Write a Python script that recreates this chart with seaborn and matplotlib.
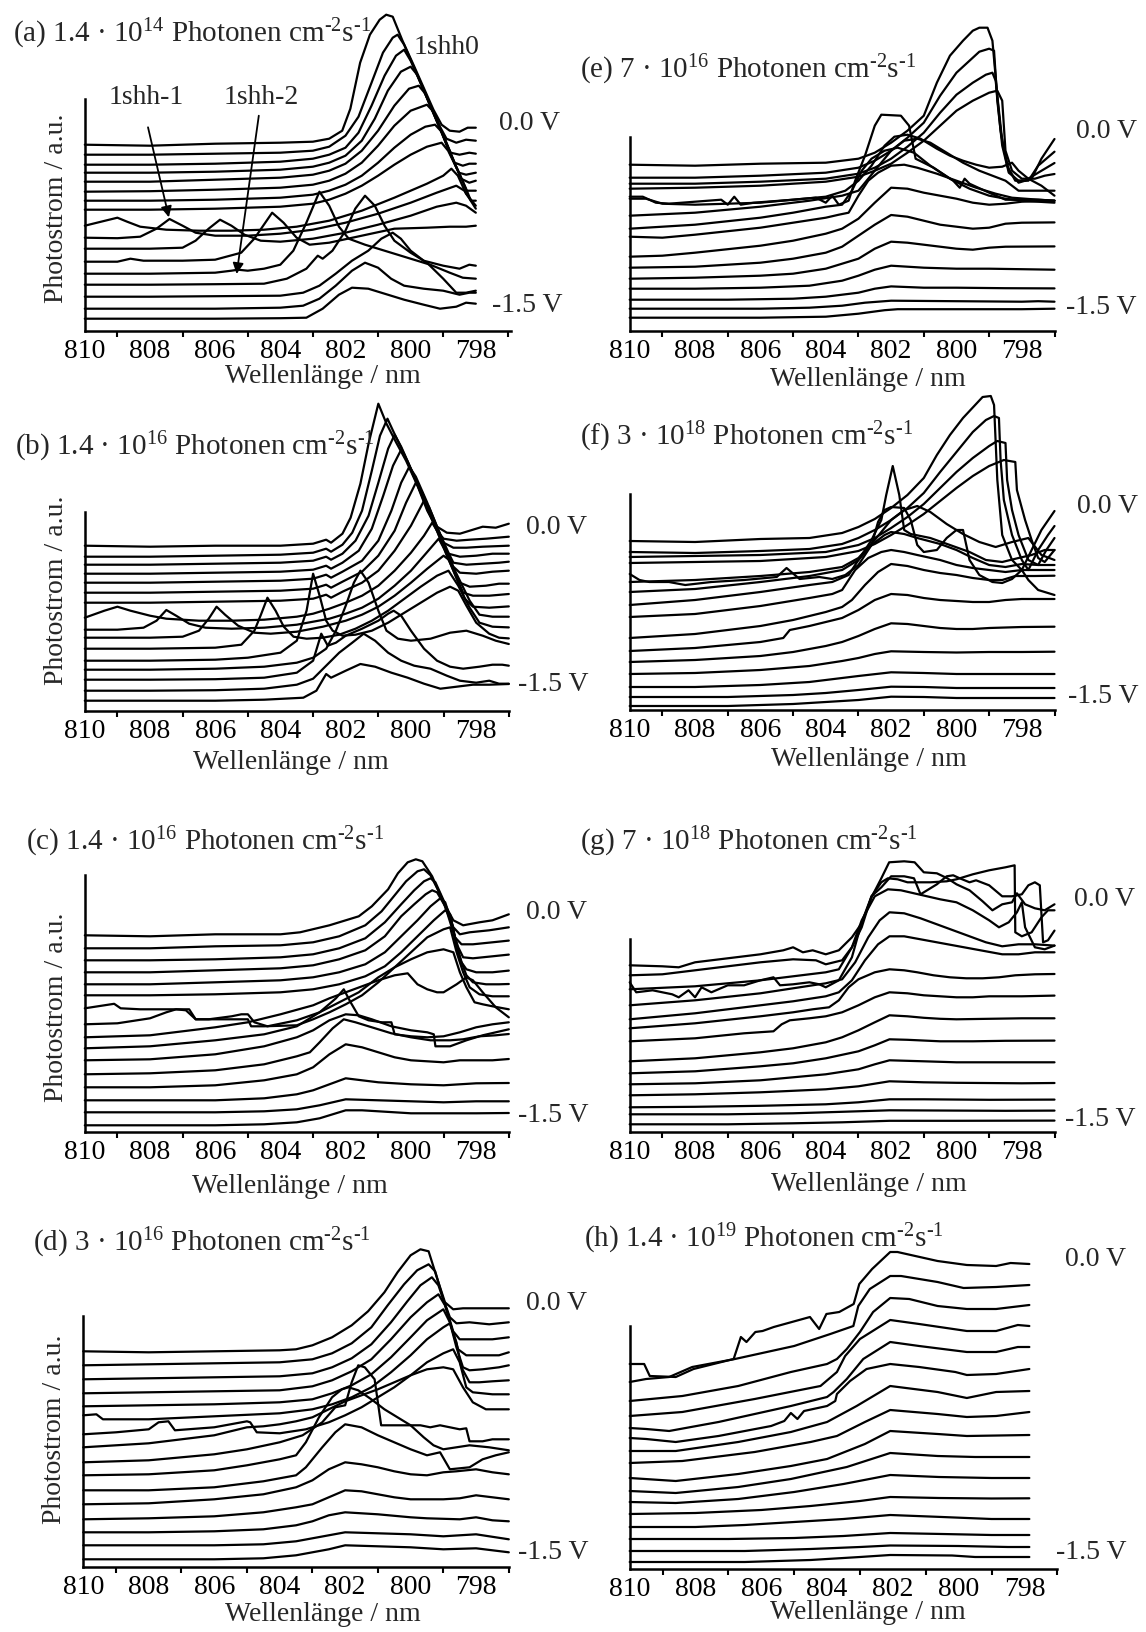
import matplotlib
matplotlib.use("Agg")
import matplotlib.pyplot as plt
from matplotlib.ticker import MultipleLocator
import pandas as pd
import seaborn as sns

sns.set_theme(style="white")
plt.rcParams["font.family"] = ["Liberation Serif", "DejaVu Serif"]
plt.rcParams["mathtext.fontset"] = "custom"
plt.rcParams["mathtext.rm"] = "Liberation Serif"
plt.rcParams["mathtext.it"] = "Liberation Serif:italic"
plt.rcParams["mathtext.bf"] = "Liberation Serif:bold"

# ---------------------------------------------------------------------------
# Photocurrent spectra (wavelength in nm, photocurrent in a.u. incl. offset),
# one list per bias step from 0.0 V (first) down to -1.5 V (last).
# ---------------------------------------------------------------------------
spectra_a = [
    [(810,186),(808,185),(806,187),(804,188),(803,189),(802.5,192),(802.1,200),(801.85,222),(801.55,268),(801.25,296),(800.95,311),(800.75,316),(800.55,314),(800.25,290),(799.9,265),(799.6,243),(799.3,221),(799.05,206),(798.8,200),(798.5,199),(798.25,203),(798,203)],
    [(810,176),(808,176),(806,177),(804,178),(803,180),(802.5,184),(802,195),(801.6,214),(801.2,248),(800.85,278),(800.55,293),(800.4,296),(800.2,286),(799.8,256),(799.4,226),(799.1,204),(798.9,192),(798.6,188),(798.3,191),(798,190)],
    [(810,166),(808,166),(806,167),(804,169),(803,172),(802.5,176),(802,183),(801.6,198),(801.2,225),(800.8,255),(800.45,275),(800.2,281),(800.0,270),(799.7,248),(799.4,225),(799.1,202),(798.9,186),(798.77,178),(798.5,176),(798.2,178),(798,177)],
    [(810,158),(808,158),(806,159),(804,161),(803,164),(802.5,168),(802,175),(801.5,190),(801.1,212),(800.7,240),(800.3,259),(800.0,264),(799.8,256),(799.5,233),(799.2,210),(798.9,188),(798.65,168),(798.4,165),(798.2,167),(798,167)],
    [(810,149),(808,149),(806,151),(804,153),(803,156),(802.5,160),(802,167),(801.5,180),(801,200),(800.5,225),(800.05,242),(799.75,245),(799.55,237),(799.25,214),(798.95,191),(798.7,171),(798.52,158),(798.3,156),(798,158)],
    [(810,139),(808,139.5),(806,141),(804,143),(803,146),(802.5,150),(802,157),(801.5,168),(801,185),(800.5,205),(800,220),(799.5,226),(799.3,219),(799.0,195),(798.75,175),(798.45,152),(798.2,148),(798,150)],
    [(810,130),(808,130),(806,131),(804,133),(803,136),(802.5,140),(802,146),(801.5,155),(801,168),(800.5,183),(800,196),(799.55,204),(799.25,206),(799.05,199),(798.8,178),(798.5,157),(798.28,140),(798,140)],
    [(810,121),(808,121),(806,122),(804,124),(803,127),(802.5,131),(802,137),(801.5,145),(801,155),(800.5,166),(800,176),(799.5,184),(799.05,188),(798.85,180),(798.55,160),(798.3,142),(798.15,130),(798,130)],
    [(810,105),(809.5,109),(809.0,113),(808.7,109),(808.3,104),(807.5,101),(806.5,100),(805.5,100),(804.5,101),(803.5,104),(802.5,110),(801.5,120),(800.5,133),(799.5,147),(799,155),(798.75,162),(798.55,155),(798.3,137),(798,125)],
    [(810,93),(809,92.5),(808.3,94),(807.8,102),(807.4,111.7),(807.0,105),(806.6,98),(806,95),(805,95),(804,97),(803,101),(802,108),(801,117),(800,128),(799.2,138),(798.6,145),(798.35,140),(798,122)],
    [(810,82),(808,82),(807,83),(806.6,90),(806.2,102),(805.85,111),(805.5,105),(805.1,96),(804.6,90),(804,89),(803,92),(802,98),(801,106),(800,115),(799.2,124),(798.6,128),(798.3,125),(798,118)],
    [(810,69),(809,69),(808.6,72),(808.2,70),(807,70),(806,71),(805.2,78),(804.8,92),(804.25,118),(803.9,108),(803.5,93),(803.1,86),(802.5,88),(801.5,95),(800.5,102),(799.5,103),(798.8,104),(798.3,104),(798,105)],
    [(810,57),(808,57),(806,58),(805.5,60),(805.3,61),(805,60),(804.5,62),(804,66),(803.6,80),(803.2,108),(802.8,139),(802.5,125),(802.2,104),(801.9,92),(801.4,86),(800.8,80),(800,72),(799.4,66),(798.8,58),(798.4,53),(798,52)],
    [(810,46),(808,46),(806,46.5),(804.5,47),(803.8,52),(803.2,62),(802.85,75),(802.7,72),(802.4,80),(802.0,100),(801.7,122),(801.4,135),(801.1,125),(800.8,105),(800.5,90),(800,78),(799.5,68),(799,52),(798.6,38),(798.3,38),(798,40)],
    [(810,34),(808,34),(806,34.5),(804,35),(803.3,38),(802.8,45),(802.3,57),(801.8,70),(801.3,80),(800.9,92),(800.55,98),(800.3,92),(800.0,80),(799.6,70),(799.0,65),(798.5,62),(798.2,66),(798,65)],
    [(810,22),(808,22),(806,22),(804,23),(803.3,25),(802.8,32),(802.3,45),(801.8,60),(801.4,68),(801,63),(800.6,52),(800.2,45),(799.6,42),(799,40),(798.5,36),(798.2,38),(798,38)],
    [(810,12),(806,12),(804,12.5),(803.2,13),(802.7,22),(802.2,36),(801.8,43),(801.3,42),(800.8,37),(800.2,31),(799.6,26),(799.1,22),(798.6,24),(798.3,28),(798,27)],
]

spectra_b = [
    [(810,165),(808,164),(806,165),(804,165),(803.0,167),(802.6,171),(802.45,168),(802.1,177),(801.85,193),(801.55,227),(801.3,267),(801.0,307),(800.75,287),(800.45,268),(800.15,250),(799.8,225),(799.5,200),(799.25,185),(798.9,178),(798.5,177),(798.2,180),(797.8,184),(797.4,183),(797,187)],
    [(810,154),(808,154),(806,155),(804,156),(803,158),(802.6,162),(802.45,159),(802.1,166),(801.8,178),(801.5,200),(801.2,240),(800.95,275),(800.72,292),(800.55,280),(800.2,256),(799.8,226),(799.45,198),(799.2,180),(799.0,172),(798.6,170),(798.2,171),(797.7,172),(797,174)],
    [(810,146),(808,146),(806,147),(804,148),(803,150),(802.6,154),(802.45,151),(802.1,157),(801.7,170),(801.3,195),(801.0,228),(800.7,262),(800.5,276),(800.3,264),(800.0,242),(799.6,212),(799.25,186),(799.0,168),(798.7,163),(798.3,163),(797.8,164),(797,165)],
    [(810,137),(808,137),(806,138),(804,139),(803,141),(802.6,145),(802.45,142),(802.1,148),(801.6,160),(801.2,182),(800.85,215),(800.55,245),(800.3,261),(800.1,249),(799.75,222),(799.4,195),(799.05,168),(798.85,157),(798.5,154),(798.0,155),(797.5,157),(797,157)],
    [(810,128),(808,128),(806,129),(804,130),(803,132),(802.6,136),(802.45,133),(802.1,139),(801.5,150),(801.0,170),(800.6,200),(800.3,228),(800.05,244),(799.85,234),(799.5,208),(799.15,180),(798.85,158),(798.7,148),(798.3,146),(797.8,147),(797.3,148),(797,149)],
    [(810,118),(808,118),(806,119),(804,120),(803,122),(802.6,126),(802.45,123),(802.1,129),(801.5,139),(801,155),(800.5,180),(800.15,208),(799.85,228),(799.65,218),(799.3,190),(798.95,162),(798.7,144),(798.5,138),(798.0,137),(797.5,139),(797,140)],
    [(810,108),(808,108),(806,109),(804,110),(803,112),(802.6,116),(802.45,113),(802.1,119),(801.5,128),(801,140),(800.5,160),(800.0,185),(799.6,210),(799.45,204),(799.1,176),(798.75,146),(798.5,128),(798.2,124),(797.7,125),(797.3,127),(797,127)],
    [(810,93),(809.4,100),(809.0,104),(808.6,100),(808.0,95),(807.5,92),(806.5,90),(805.5,90),(804.5,91),(803.5,94),(803,97),(802.5,102),(802,108),(801.5,115),(801,125),(800.5,140),(800,158),(799.6,175),(799.35,188),(799.2,180),(798.9,155),(798.6,133),(798.4,118),(798.1,115),(797.6,115),(797,116.7)],
    [(810,81),(809,81),(808.2,83),(807.8,90),(807.5,100.7),(807.2,95),(806.8,87),(806.3,83),(805.5,82),(804.5,83),(803.5,86),(802.5,92),(802,97),(801.5,103),(801,112),(800.5,125),(800,140),(799.6,155),(799.15,172),(798.95,160),(798.65,136),(798.35,112),(798.1,104),(797.6,103),(797,104.3)],
    [(810,73),(808,73),(807,74),(806.5,80),(806.2,92),(805.96,104),(805.7,96),(805.3,85),(804.8,78),(804.3,77),(803.5,79),(802.7,84),(802,90),(801.5,96),(801,104),(800.5,115),(800,128),(799.5,142),(799.0,155),(798.8,150),(798.5,130),(798.2,110),(797.9,96),(797.5,94),(797,94)],
    [(810,62),(808,62),(806,63),(805.2,66),(804.8,80),(804.6,96),(804.4,113),(804.15,100),(803.9,84),(803.6,74),(803.2,72),(802.7,73),(802.2,76),(801.7,82),(801.2,90),(800.7,100),(800.2,112),(799.7,124),(799.2,135),(798.85,140),(798.55,125),(798.2,103),(797.9,88),(797.5,84),(797,83.3)],
    [(810,50),(808,50),(806,51),(805,53),(804,58),(803.5,70),(803.2,100),(803.0,137),(802.8,115),(802.6,90),(802.4,80),(802.1,75),(801.7,76),(801.2,80),(800.7,88),(800.2,98),(799.7,108),(799.2,118),(798.8,124),(798.55,120),(798.3,105),(798,88),(797.6,77),(797.3,73),(797,72.3)],
    [(810,41),(808,41),(806,42),(804.5,44),(803.5,48),(803,53),(802.6,62),(802.3,80),(802.0,105),(801.75,128),(801.55,140),(801.3,128),(801.0,100),(800.75,80),(800.4,72),(800,70),(799.4,72),(798.8,78),(798.3,80),(797.8,75),(797.4,70),(797,66.7)],
    [(810,31),(808,31),(806,31.5),(804.5,33),(803.5,38),(803.0,50),(802.75,77),(802.55,65),(802.3,68),(802.0,75),(801.5,82),(801.0,90),(800.7,97),(800.53,100),(800.3,95),(800.0,80),(799.6,62),(799.2,50),(798.8,44),(798.4,42),(797.9,44),(797.5,46),(797.2,46),(797,45)],
    [(810,20),(808,20),(806,20.5),(804.5,22),(803.5,26),(803,32),(802.6,45),(802.2,58),(801.8,68),(801.45,77),(801.1,70),(800.7,58),(800.3,50),(799.9,45),(799.4,42),(798.9,35),(798.5,30),(798.0,28),(797.6,30),(797.3,27),(797,27)],
    [(810,10),(806,10),(804.5,11),(803.3,13),(802.9,20),(802.6,36.7),(802.45,33),(802.0,40),(801.55,46.7),(801.1,44),(800.6,38),(800.1,33),(799.6,27),(799.1,22),(798.6,24),(798.1,26),(797.6,26),(797,26.7)],
]

spectra_c = [
    [(810,197),(808,196),(806,198),(804,198),(803.4,200),(802.5,207),(801.6,216),(801.2,226),(800.7,243),(800.4,259),(800.1,270),(799.85,273),(799.65,271),(799.35,256),(799.1,237),(798.85,221),(798.7,212),(798.4,207),(797.9,210),(797.5,212),(797,218)],
    [(810,184),(808,184),(806,186),(804,187),(803,190),(802.2,196),(801.4,207),(800.9,221),(800.5,237),(800.15,251),(799.8,261),(799.6,263),(799.4,257),(799.1,238),(798.9,221),(798.7,205),(798.5,198),(798.2,200),(797.6,202),(797,205)],
    [(810,172),(808,172),(806,173),(804,175),(803,178),(802.2,184),(801.4,194),(800.8,210),(800.3,228),(799.9,242),(799.6,251),(799.4,254),(799.25,250),(799.0,232),(798.8,215),(798.65,195),(798.45,188),(798.1,188),(797.5,190),(797,191.7)],
    [(810,160),(808,160),(806,162),(804,164),(803,167),(802.2,173),(801.4,182),(800.8,196),(800.3,216),(799.9,228),(799.55,238),(799.35,242),(799.2,240),(798.95,226),(798.75,205),(798.55,185),(798.4,175),(798.1,174),(797.5,176),(797,177.7)],
    [(810,148),(808,148),(806,150),(804,152),(803,155),(802.2,160),(801.4,168),(800.8,180),(800.3,196),(799.8,212),(799.4,226),(799.1,234),(798.95,230),(798.75,210),(798.6,185),(798.45,170),(798.3,163),(798,160),(797.5,160),(797,161.7)],
    [(810,137),(808,137),(806,138),(804,140),(803,143),(802.2,148),(801.4,156),(800.8,166),(800.3,180),(799.8,196),(799.3,212),(798.95,222),(798.8,218),(798.6,188),(798.45,170),(798.3,157),(798.1,150),(797.7,148),(797.3,148),(797,148.3)],
    [(810,124),(809.4,127),(809.1,128.5),(808.9,124),(808.3,123),(807.2,123),(806.8,123),(806.6,113),(806,113),(805,113),(804.9,106),(804.5,106),(803.5,107),(803,113),(802.5,120),(802,128),(801.5,137),(801,150),(800.5,165),(800,180),(799.5,195),(799.0,203),(798.8,205),(798.6,180),(798.4,160),(798.2,145),(797.9,138),(797.5,136),(797,136)],
    [(810,108),(809,109),(808,114),(807.5,120),(807.2,123),(806.9,122),(806.6,113),(806.2,113),(805.5,116),(805.2,118),(805.0,118),(804.8,110),(804.4,106),(803.5,112),(802.8,120),(802.2,130),(801.6,140),(801,155),(800.5,165),(800,173),(799.5,180),(799,183),(798.7,180),(798.5,160),(798.3,145),(798.05,130),(797.8,128),(797.5,126),(797,123)],
    [(810,95),(808,97),(806,105),(805,110),(804,118),(803,127),(802.5,134),(802,140),(801.5,146),(801,152),(800.5,157),(800.1,159),(799.8,148),(799.5,143),(799.2,140),(799,140),(798.6,148),(798.3,155),(798.1,152),(797.8,140),(797.4,125),(797,115)],
    [(810,84),(808,86),(806,92),(804.5,98),(803.5,106),(802.8,120),(802.3,134),(802.06,143),(801.85,130),(801.6,116),(801.3,112),(800.9,110),(800.6,110),(800.5,98),(800.0,96),(799.5,95),(799,96),(798.5,100),(798,105),(797.5,108),(797,110)],
    [(810,72),(808,73),(806,78),(804.5,86),(803.5,95),(803,102),(802.5,112),(802,118),(801.6,117),(801.2,113),(800.6,106),(800.0,102),(799.5,100),(799.3,98),(799.25,86),(798.8,86),(798.3,92),(797.8,97),(797.4,100),(797,103)],
    [(810,58),(808,59),(806,62),(804.5,68),(803.5,76),(803.1,80),(802.8,90),(802.4,104),(802.06,113),(801.7,110),(801.2,105),(800.6,99),(800.0,95),(799.4,92),(798.8,92),(798.4,93),(797.9,96),(797.4,97),(797,98.3)],
    [(810,45),(808,45),(806,47),(804.5,52),(803.5,58),(803,65),(802.5,78),(802,88),(801.5,85),(801,80),(800.5,75),(800,72),(799.5,71),(799,70),(798.5,72),(798,72),(797.5,72),(797,73.3)],
    [(810,32),(806,32),(804.5,34),(803.5,38),(803,42),(802.5,48),(802,54),(801.5,52),(801,50),(800,48),(799,47),(798,49),(797,49.3)],
    [(810,20),(806,20),(804.5,21),(803.5,23),(802.8,27),(802,33),(801,32),(800,31),(799,30),(798,31),(797,31)],
    [(810,7),(806,7),(804.5,8),(803.5,10),(802.8,14),(802,22),(801.5,22),(801,21),(800,19),(799,19),(798,19),(797,19.3)],
]

spectra_d = [
    [(810,216),(808,215),(806,216),(804,217),(803.5,218),(803,222),(802.4,230),(801.8,242),(801.3,256),(800.8,275),(800.4,295),(800.0,312),(799.7,318),(799.45,316),(799.2,290),(798.95,265),(798.7,258),(798.4,259),(797.8,259),(797,259)],
    [(810,202),(808,203),(806,204),(804,205),(803,208),(802.4,214),(801.8,224),(801.2,240),(800.7,262),(800.2,283),(799.8,297),(799.45,303),(799.25,296),(799.0,268),(798.8,250),(798.6,244),(798.2,245),(797.6,243),(797,245)],
    [(810,188),(808,189),(806,190),(804,191),(803,194),(802.4,200),(801.8,209),(801.2,223),(800.6,245),(800.1,266),(799.7,282),(799.35,290),(799.15,282),(798.9,258),(798.7,236),(798.5,228),(798.1,228),(797.5,228),(797,230)],
    [(810,174),(808,175),(806,176),(804,177),(803,181),(802.4,187),(801.8,196),(801.2,208),(800.6,228),(800,250),(799.5,265),(799.15,273),(798.95,262),(798.75,240),(798.55,218),(798.3,212),(797.8,212),(797.3,212),(797,215)],
    [(810,161),(808,162),(806,163),(804,165),(803,168),(802.4,174),(801.8,182),(801.2,193),(800.6,210),(800,230),(799.5,247),(799.0,258),(798.8,245),(798.6,220),(798.4,200),(798.2,197),(797.8,198),(797.3,200),(797,202)],
    [(810,152),(809.6,153),(809.4,148),(808,148),(806,151),(804,154),(803,158),(802.4,163),(801.8,170),(801.2,180),(800.6,195),(800,212),(799.5,228),(799.0,240),(798.8,244),(798.6,225),(798.45,200),(798.2,185),(797.9,185),(797.5,186),(797,187)],
    [(810,133),(809,135),(808,138),(807.7,145),(807.4,146),(807.2,137),(806,140),(805,146),(804.9,145),(804.7,135),(804,134),(803.2,138),(802.5,145),(802,152),(801.5,160),(801,170),(800.5,180),(800,192),(799.5,205),(799,214),(798.7,218),(798.5,205),(798.3,180),(798.1,175),(797.5,173),(797,173)],
    [(810,120),(808,124),(806,132),(805,140),(804.5,141),(804,143),(803.5,146),(803,150),(802.5,158),(802,166),(801.5,172),(801,178),(800.5,185),(800,192),(799.5,198),(799.0,200),(798.7,198),(798.4,180),(798.1,165),(797.7,158),(797.3,158),(797,158)],
    [(810,105),(808,107),(806,113),(805,118),(804,125),(803.3,132),(802.7,145),(802.3,160),(802.0,162),(801.8,185),(801.6,202),(801.4,200),(801.1,188),(800.9,142),(800.5,142),(800,142),(799.7,142),(799.4,140),(799.1,142),(798.8,140),(798.5,138),(798.3,139),(798.2,126),(797.8,126),(797.5,128),(797,128)],
    [(810,92),(808,93),(806,97),(805,102),(804,108),(803.5,112),(803.2,125),(802.8,150),(802.4,170),(802.1,178),(801.9,180),(801.6,177),(801.2,168),(800.8,158),(800.4,150),(800,142),(799.6,130),(799.3,122),(799.0,118),(798.6,120),(798.2,122),(797.6,120),(797,117)],
    [(810,77),(808,77),(806,80),(804.5,86),(803.5,92),(803.2,100),(802.7,120),(802.3,135),(802,143),(801.5,140),(801,132),(800.5,125),(800,118),(799.5,112),(799.1,115),(798.8,98),(798.2,100),(797.8,108),(797.4,112),(797,115)],
    [(810,63),(808,64),(806,68),(804.5,73),(803.5,80),(803,87),(802.5,98),(802,105),(801.5,103),(801,100),(800.5,96),(800,93),(799.5,92),(799,95),(798.6,96),(798,98),(797.5,95),(797,93)],
    [(810,48),(808,49),(806,51),(804.5,55),(803.5,60),(803,63),(802.5,70),(802,77),(801.5,76),(801,73),(800.5,70),(800,68),(799.5,68),(799,68),(798.5,69),(798,72),(797.5,70),(797,68)],
    [(810,35),(808,35),(806,36),(804.5,38),(803.5,42),(803,46),(802.5,52),(802,55),(801,53),(800,50),(799.5,49),(798.5,48),(798,50),(797.5,47),(797,46)],
    [(810,22),(806,22),(804.5,23),(803.5,26),(802.5,32),(802,35),(801,34),(800,33),(799,31),(798,33),(797,28)],
    [(810,8),(806,8),(804.5,9),(803.5,12),(802.5,18),(802,22),(801,21),(800,20),(799,18),(798,19),(797,15)],
]

spectra_e = [
    [(810,166),(808,165),(806,167),(804,168),(803,172),(802.5,178),(802,188),(801.5,200),(801,215),(800.6,248),(800.2,275),(799.8,290),(799.5,300),(799.3,303),(799.05,303),(798.9,290),(798.75,235),(798.6,190),(798.4,160),(798.1,148),(797.7,152),(797.4,172),(797,191.7)],
    [(810,153),(808,153),(806,155),(804,158),(803,163),(802.5,170),(802,180),(801.5,193),(801,208),(800.5,235),(800,258),(799.6,270),(799.3,279),(799.0,282),(798.85,280),(798.75,230),(798.6,185),(798.4,158),(798.1,150),(797.8,150),(797.5,165),(797,179)],
    [(810,147),(808,147),(806,149),(804,152),(803,157),(802.5,163),(802,172),(801.5,184),(801,198),(800.5,218),(800,236),(799.5,248),(799.1,256),(798.9,258),(798.8,250),(798.65,200),(798.45,165),(798.2,150),(797.9,150),(797.5,158),(797,167.7)],
    [(810,142),(808,143),(806,145),(804,149),(803,154),(802.5,160),(802,167),(801.5,178),(801,190),(800.5,205),(800,220),(799.5,230),(799,238),(798.75,240),(798.6,230),(798.5,180),(798.3,160),(798,152),(797.6,152),(797.3,155),(797,156.7)],
    [(810,134),(809.6,134),(809.2,128),(808.8,127),(808,129),(807.2,131),(807.0,126),(806.8,134),(806.6,126),(806.2,128),(805,131),(804.3,133),(804.0,128),(803.8,135),(803.6,126),(803.3,130),(803.1,150),(802.8,175),(802.5,205),(802.3,216),(801.7,215),(801.45,205),(801.25,172),(800.7,163),(800.1,150),(799.9,143),(799.75,152),(799.6,147),(799,138),(798.5,131),(798,131),(797.5,131),(797,130)],
    [(810,132),(809.5,132),(809,127),(808,126),(806,128),(805,131),(804,134),(803.4,140),(803,150),(802.6,165),(802.2,185),(801.9,194),(801.5,196),(801.1,192),(800.6,182),(800.2,175),(799.8,170),(799.4,166),(799,163),(798.6,164),(798.3,168),(798.1,160),(797.8,152),(797.4,145),(797,135)],
    [(810,115),(808,118),(806,124),(804.5,130),(803.5,135),(803,140),(802.5,160),(802,180),(801.6,190),(801.2,192),(800.8,188),(800.3,178),(799.8,168),(799.3,160),(798.9,155),(798.5,150),(798.1,140),(797.6,140),(797,140)],
    [(810,102),(808,106),(806,113),(805,118),(804,124),(803.5,126),(803.2,140),(802.9,160),(802.6,172),(802.2,180),(801.8,183),(801.3,178),(800.8,165),(800.2,152),(799.6,142),(799,135),(798.5,132),(798,130),(797,128)],
    [(810,94),(809,93),(808,96),(806,103),(805,108),(804,113),(803.6,116),(803.3,118),(803.0,135),(802.7,150),(802.4,158),(802.0,165),(801.6,166),(801.2,163),(800.6,157),(800,150),(799.4,143),(798.8,137),(798.3,133),(797.5,131),(797,130)],
    [(810,74),(809,75),(808,78),(806,85),(805,90),(804,97),(803.5,102),(803,112),(802.5,128),(802,143),(801.5,142),(801,138),(800.5,135),(800,132),(799.5,128),(799,126),(798.5,127),(798,129),(797,130)],
    [(810,63),(808,64),(806,68),(805,72),(804,78),(803.5,84),(803,95),(802.5,106),(802,115.7),(801.5,114),(801,110),(800.5,106),(800,104),(799.5,102),(799,103),(798.5,107),(798,108),(797,108.3)],
    [(810,52),(808,53),(806,55),(805,57),(804,62),(803,72),(802.5,82),(802,89),(801.5,88),(801,86),(800.5,84),(800,82),(799.5,81),(799,83),(798.5,84),(797,84.3)],
    [(810,42),(808,42),(806,43),(804.5,45),(803.5,50),(803,55),(802.5,61),(802,65),(801.5,64),(801,63),(800,62),(799,62),(798,61.5),(797,61)],
    [(810,31),(807,31),(805,32),(804,34),(803,38),(802.5,42),(802,44.3),(801,43),(800,43),(798.5,42.5),(797,42.3)],
    [(810,22),(806,22),(804.5,23),(803.5,25),(802.8,28),(802,30),(800,29.5),(798,29),(797.5,29.5),(797,29)],
    [(810,13),(806,13),(804,14),(803,17),(802.2,20.5),(801.8,21.5),(800,21.5),(798,21.5),(797,22)],
]

spectra_f = [
    [(810,169),(808,168),(806,171),(804.5,172),(803.5,177),(803,183),(802.5,191),(802,202),(801.5,215),(801,232),(800.6,255),(800.2,275),(799.8,292),(799.4,306),(799.2,313),(798.95,314),(798.85,305),(798.75,230),(798.6,175),(798.3,150),(798.0,140),(797.7,160),(797.4,180),(797,199)],
    [(810,158),(808,157),(806,159),(804.5,161),(803.5,166),(803,172),(802.5,180),(802,190),(801.5,202),(801,217),(800.5,238),(800,258),(799.5,278),(799.1,290),(798.85,294),(798.7,292),(798.65,250),(798.55,210),(798.3,175),(798,150),(797.8,140),(797.5,160),(797.2,175),(797,184)],
    [(810,153),(806,155),(804,158),(803,165),(802.5,172),(802,182),(801.5,193),(801,206),(800.5,222),(800,238),(799.5,252),(799,264),(798.75,269),(798.5,267),(798.45,230),(798.3,200),(798.1,175),(797.8,150),(797.5,145),(797.25,160),(797,172)],
    [(810,147),(806,149),(804,153),(803,159),(802.5,166),(802,175),(801.5,185),(801,196),(800.5,209),(800,222),(799.5,234),(799,244),(798.55,250),(798.2,248),(798.15,220),(797.9,190),(797.7,170),(797.5,152),(797.3,148),(797,160)],
    [(810,136),(809.7,130),(809.4,128),(808.8,128),(808.3,125),(807.5,128),(806.5,130),(805.5,133),(805.2,142),(804.8,131),(804.2,133),(803.8,131),(803.4,135),(803,145),(802.6,165),(802.4,188),(802.2,200),(802.0,203),(801.6,202),(801.4,190),(801.2,165),(801.0,158),(800.6,160),(800.3,172),(800.0,180),(799.8,180),(799.6,150),(799.3,135),(798.9,128),(798.6,127),(798.3,131),(798.0,140),(797.8,130),(797.5,120),(797,115)],
    [(810,128),(808,130),(806,134),(804.5,138),(803.5,143),(803,152),(802.5,170),(802,190),(801.6,200),(801.2,204),(800.8,198),(800.3,186),(799.8,176),(799.3,168),(798.8,163),(798.3,168),(797.8,172),(797.4,155),(797,150)],
    [(810,118),(808,121),(806,128),(804.5,134),(803.5,140),(803,150),(802.6,170),(802.3,190),(802.15,215),(801.95,244),(801.75,215),(801.6,180),(801.4,176),(800.8,172),(800.2,165),(799.6,158),(799.1,150),(798.6,148),(798.1,152),(797.7,155),(797.3,160),(797,160)],
    [(810,105),(808,110),(806,118),(804.5,125),(803.8,128),(803.3,135),(803,150),(802.6,165),(802.2,175),(802,178),(801.6,176),(801.2,172),(800.5,166),(800,160),(799.5,152),(799,145),(798.5,143),(798,146),(797.5,145),(797,145)],
    [(810,93),(808,96),(806,104),(804.5,112),(803.8,116),(803.5,120),(803.1,140),(802.7,152),(802.3,158),(802,160),(801.6,158),(801.2,155),(800.5,150),(800,145),(799.5,142),(799,140),(798.5,138),(798,140),(797.5,140),(797,140)],
    [(810,72),(808,76),(806,84),(805,90),(804,98),(803.5,103),(803.2,110),(802.8,125),(802.4,138),(802,146),(801.5,144),(801,140),(800.5,137),(800,135),(799.5,132),(799,130),(798.6,130),(798.2,134),(797.6,134),(797,134.3)],
    [(810,59),(808,62),(806,68),(805.3,72),(805.1,80),(804.5,84),(804,88),(803.5,92),(803,100),(802.5,110),(802,116),(801.5,115),(801,112),(800.5,110),(800,109),(799.5,108),(799,108),(798.5,110),(798,111),(797,111)],
    [(810,48),(808,50),(806,54),(805,58),(804,64),(803.5,68),(803,74),(802.5,81),(802,86.7),(801.5,86),(801,84),(800.5,82),(800,81),(799.5,81),(799,82),(798,83),(797,83.3)],
    [(810,36),(808,37),(806,40),(804.5,44),(803.5,49),(803,52),(802.5,56),(802,58.7),(801,58),(800,57.5),(799,58),(798,58),(797,58.3)],
    [(810,23),(808,23),(806,25),(804.5,28),(803.5,32),(803,34),(802,37.7),(801,37),(800,36),(799,36),(798,36),(797,36)],
    [(810,13),(807,13),(805,15),(804,17),(803,20),(802,23.3),(801,23),(800,22),(798,22),(797,22)],
    [(810,4),(807,4),(805,6),(804,8),(803,10),(802,13.3),(801,13),(800,12),(798,12),(797,12)],
]

spectra_g = [
    [(810,167),(809,166),(808.5,165),(808,170),(807,174),(806,178),(805.3,182),(805.0,185),(804.7,180),(804.4,182),(804,178),(803.6,182),(803.2,195),(802.9,209),(802.6,235),(802.3,254),(802.06,270),(801.6,271),(801.28,270),(801.0,260),(800.6,259),(800.28,254),(800.0,248),(799.6,242),(799.2,231),(798.9,222),(798.6,228),(798.3,230),(798.15,239),(797.9,228),(797.6,224),(797.3,222),(797,228)],
    [(810,157),(809,158),(808,162),(807,166),(806,170),(805,173),(804.3,172),(804,168),(803.5,172),(803.2,185),(802.9,205),(802.6,236),(802.3,250),(802.1,254),(801.8,253),(801.5,250),(801.2,250),(800.8,250),(800.3,251),(800,253),(799.5,258),(799,262),(798.5,265),(798.22,267),(798.2,200),(798.0,196),(797.7,200),(797.4,215),(797.2,222),(797,222)],
    [(810,150),(809.8,140),(809.3,142),(808.7,138),(808.5,135),(808.2,142),(808.0,135),(807.8,145),(807.5,140),(807,147),(806.5,147),(806,152),(805.6,155),(805.4,147),(805,148),(804.5,150),(804.2,148),(804.0,145),(803.6,152),(803.2,175),(802.9,210),(802.6,236),(802.3,245),(802.0,256),(801.6,256),(801.3,254),(801.1,238),(800.9,242),(800.6,248),(800.3,256),(800.1,257),(799.9,254),(799.6,250),(799.4,252),(799.0,247),(798.6,236),(798.3,236),(798.0,238),(797.8,247),(797.6,250),(797.45,247),(797.35,190),(797.2,192),(797,201.7)],
    [(810,143),(808,146),(806,152),(805,156),(804,160),(803.6,163),(803.2,185),(802.9,212),(802.5,236),(802.1,243),(801.7,242),(801.3,239),(800.9,236),(800.5,233),(800,230),(799.5,222),(799,212),(798.7,205),(798.4,210),(798.15,220),(798.0,230),(797.9,205),(797.6,185),(797.3,183),(797,186.7)],
    [(810,127),(808,132),(806,139),(805,144),(804,149),(803.5,153),(803.1,170),(802.7,195),(802.35,212),(802.05,220),(801.6,219),(801.1,214),(800.6,208),(800.1,202),(799.6,196),(799.1,190),(798.6,186),(798.1,188),(797.6,188),(797,186.7)],
    [(810,113),(808,119),(806,127),(805,131),(804,136),(803.6,140),(803.2,152),(802.8,172),(802.4,188),(802.05,196),(801.6,196),(801.1,193),(800.6,190),(800.1,187),(799.6,184),(799.1,181),(798.6,178),(798.1,178),(797.6,180),(797,180)],
    [(810,104),(808,109),(806,116),(805,120),(804.4,123),(803.9,125),(803.6,132),(803.3,145),(803.0,153),(802.5,160),(802.05,163),(801.6,162),(801.2,160),(800.7,157),(800.2,155),(799.7,154),(799.2,154),(798.7,155),(798.2,157),(797.6,158),(797,158.3)],
    [(810,91),(808,94),(806.5,99),(805.6,101),(805.35,108),(805.1,112),(804.5,114),(804,116),(803.5,120),(803,127),(802.5,135),(802.05,140),(801.5,139),(801,137),(800.5,136),(800,135),(799.5,135),(799,136),(798.5,136),(798,136),(797,136.7)],
    [(810,71),(808,74),(806,80),(805,84),(804,90),(803.5,95),(803,102),(802.5,110),(802.05,117),(801.5,116),(801,114.5),(800.5,113.5),(800,113),(799,113.5),(798,114),(797,114)],
    [(810,59),(808,61),(806,66),(805,69),(804,74),(803,81),(802.5,87),(802.05,93),(801.5,92.5),(800.5,91),(799.5,91),(798.5,91.5),(797,91.7)],
    [(810,48),(808,49),(806,52),(805,55),(804,58),(803,63),(802.5,68),(802.05,72),(801,71),(800,70),(799,70),(797,70)],
    [(810,37),(808,38),(806,40),(804,43),(803,46),(802.05,51),(801,50),(800,49.5),(798,49),(797,49.3)],
    [(810,25),(808,25.5),(806,26.5),(804,28),(803,30),(802.05,33),(801,33),(799,32.5),(797,32.7)],
    [(810,18),(807,18),(805,19),(803.5,20.5),(802.05,22),(800,21.7),(798.5,21.5),(797,21.7)],
    [(810,8),(807,8),(805,9),(803.5,10),(802.05,11.5),(800,11.5),(797,11.7)],
]

spectra_h = [
    [(810,205),(809.56,205),(809.39,193),(808.6,192),(808.06,200),(806.84,210),(806.62,232),(806.45,227),(806.18,237),(805.96,238),(805.62,242),(804.52,252),(804.24,240),(804.02,255),(803.63,257),(803.19,265),(803.02,285),(802.63,300),(802.08,317),(801.86,317),(800.64,308),(799.75,304),(798.86,303),(798.42,306),(797.85,305)],
    [(810,187),(809.5,190),(808.8,192),(808.1,202),(806.8,210),(805,223),(803.9,235),(803.2,243),(803.05,263),(802.7,280),(802.08,293),(801.75,293),(800.64,287),(799.85,281),(798.86,282),(797.85,284)],
    [(810,168),(808.4,173),(806.7,183),(805.1,197),(804,205),(803.7,210),(803.4,220),(803.0,237),(802.6,257),(802.08,271),(801.5,270),(800.64,263),(799.75,260),(798.86,260),(797.85,264)],
    [(810,153),(808.4,157),(806.2,170),(804.2,183),(803.7,197),(803.45,213),(803.0,230),(802.08,249),(801.2,245),(799.75,238),(798.86,238),(798.2,244),(797.85,243)],
    [(810,141),(809.5,140),(808.8,138),(807.3,147),(805.1,163),(804,172),(803.8,177),(803.4,190),(802.9,210),(802.08,227),(801.2,223),(799.75,217),(798.86,217),(798.2,222),(797.85,222)],
    [(810,131),(809.5,130),(808.6,127),(807.3,133),(805.7,143),(805.3,148),(805.1,156),(804.9,150),(804.7,158),(804.0,163),(803.75,168),(803.7,175),(803.3,188),(802.8,200),(802.08,205),(801.2,202),(800.1,197),(799.75,194),(798.86,195),(797.85,200)],
    [(810,118),(808.6,118),(806.7,127),(805.1,137),(804,147),(803.1,163),(802.08,183),(800.64,177),(799.75,171),(798.86,177),(797.85,178)],
    [(810,106),(808.4,108),(806.2,117),(804.5,127),(803.7,133),(802.85,147),(802.08,159),(800.64,155),(799.75,152),(798.86,153),(797.85,157)],
    [(810,91),(808.6,88),(806.7,95),(805.1,103),(804,110),(802.85,125),(802.08,138),(800.64,135),(799.75,133),(797.85,134)],
    [(810,78),(809.3,77),(808.6,76),(806.7,82),(805.1,90),(803.4,102),(802.08,116),(800.64,113),(799.5,112),(797.85,112)],
    [(810,67),(808.6,66),(806.7,70),(805,77),(803.5,85),(802.08,94),(800.6,92),(799,91),(797.85,91)],
    [(810,55),(808,56),(806,59),(804.5,63),(803,68),(802.08,72),(800.6,71),(799,70.5),(797.85,70.7)],
    [(810,42),(808,42),(806.5,44),(805,47),(803.5,50),(802.08,54),(800.5,52),(799,50),(797.85,50)],
    [(810,30),(807,30),(805,31),(803.5,33),(802.08,36),(800.5,35),(799,34),(797.85,34)],
    [(810,18),(806.5,18),(804.5,20),(803,22),(802.08,23.5),(800,23),(798.5,22),(797.85,22)],
    [(810,7),(806.5,7),(804.5,9),(803,12),(802.08,14),(800.2,13.5),(799.5,12),(798.9,12),(797.85,12)],
]

photon_flux = ["1.4 · 10$^{14}$", "1.4 · 10$^{16}$", "1.4 · 10$^{16}$", "3 · 10$^{16}$",
               "7 · 10$^{16}$", "3 · 10$^{18}$", "7 · 10$^{18}$", "1.4 · 10$^{19}$"]
panel_tags = ["a", "b", "c", "d", "e", "f", "g", "h"]
bias_labels = ["0.0 V", "-1.5 V"]
major_ticks = [810, 808, 806, 804, 802, 800, 798]

# ---------------------------------------------------------------------------
W, H = 1146, 1633
fig = plt.figure(figsize=(W / 100, H / 100), dpi=100)

def px_text(x, y, s, **kw):
    fig.text(x / W, 1 - y / H, s, **kw)

# axes box in pixels: (left, right, top, bottom), right x-limit
boxes = {
    "a": ((84.8, 511.0, 100.0, 331.7), 796.92),
    "b": ((84.8, 508.8, 513.3, 711.7), 797.0),
    "c": ((84.8, 508.8, 876.0, 1133.3), 797.0),
    "d": ((83.3, 508.8, 1316.7, 1568.3), 797.0),
    "e": ((629.7, 1054.5, 138.3, 331.7), 797.0),
    "f": ((629.7, 1054.5, 495.0, 711.0), 797.0),
    "g": ((629.7, 1054.5, 940.0, 1133.3), 797.0),
    "h": ((629.7, 1057.3, 1326.7, 1570.0), 797.0),
}
spectra = dict(zip(panel_tags, [spectra_a, spectra_b, spectra_c, spectra_d,
                                spectra_e, spectra_f, spectra_g, spectra_h]))
title_pos = {"a": (13, 42), "b": (15, 455), "c": (26, 850), "d": (33, 1251),
             "e": (580, 78), "f": (580, 445), "g": (580, 850), "h": (584, 1247)}
volt_pos = {"a": ((499, 123), (492, 305)), "b": ((526, 527), (518, 685)),
            "c": ((526, 913), (518, 1115)), "d": ((526, 1303), (518, 1553)),
            "e": ((1076, 132), (1066, 308)), "f": ((1077, 507), (1068, 697)),
            "g": ((1074, 900), (1065, 1120)), "h": ((1065, 1260), (1056, 1553))}
xlabel_pos = {"a": (323, 377), "b": (291, 763), "c": (290, 1187), "d": (323, 1615),
              "e": (868, 380), "f": (869, 760), "g": (869, 1185), "h": (868, 1613)}
ylabel_pos = {"a": (57, 208), "b": (57, 590), "c": (57, 1007), "d": (55, 1429)}

FS = 20
for tag, flux in zip(panel_tags, photon_flux):
    (x0, x1, y0, y1), xr = boxes[tag]
    ax = fig.add_axes([x0 / W, 1 - y1 / H, (x1 - x0) / W, (y1 - y0) / H])
    rows = []
    for i, curve in enumerate(spectra[tag]):
        for j, (wl, val) in enumerate(curve):
            rows.append((i, j, wl, val))
    df = pd.DataFrame(rows, columns=["curve", "step", "wl", "val"])
    sns.lineplot(data=df, x="wl", y="val", units="curve", estimator=None, sort=False,
                 color="black", linewidth=1.6, legend=False, ax=ax, clip_on=False)
    ax.set_xlim(810, xr)
    ax.set_ylim(0, y1 - y0)
    ax.set_facecolor("none")
    for side in ("top", "right"):
        ax.spines[side].set_visible(False)
    for side in ("left", "bottom"):
        ax.spines[side].set_color("black")
        ax.spines[side].set_linewidth(1.8)
    ax.set_yticks([])
    ax.set_xticks(major_ticks)
    ax.set_xticklabels([str(t) for t in major_ticks])
    ax.xaxis.set_minor_locator(MultipleLocator(1))
    ax.tick_params(axis="x", which="major", direction="out", length=4, width=1.5,
                   pad=1, labelsize=FS, colors="black")
    ax.tick_params(axis="x", which="minor", direction="out", length=4, width=1.5,
                   colors="black", bottom=True)
    ax.set_xlabel("")
    ax.set_ylabel("")

    tx, ty = title_pos[tag]
    px_text(tx, ty, f"({tag}) {flux} Photonen cm$^{{\\text{{-2}}}}$s$^{{\\text{{-1}}}}$",
            fontsize=21, ha="left", va="baseline")
    (vx0, vy0), (vx1, vy1) = volt_pos[tag]
    px_text(vx0, vy0, bias_labels[0], fontsize=FS, ha="left", va="center")
    px_text(vx1, vy1, bias_labels[1], fontsize=FS, ha="left", va="center")
    lx, ly = xlabel_pos[tag]
    px_text(lx, ly, "Wellenlänge / nm", fontsize=FS, ha="center", va="center")
    if tag in ylabel_pos:
        yx, yy = ylabel_pos[tag]
        px_text(yx, yy, "Photostrom / a.u.", fontsize=FS, ha="center", va="center",
                rotation=90)

    if tag == "a":
        arrow = dict(arrowstyle="-|>", color="black", lw=1.3, mutation_scale=16,
                     shrinkA=0, shrinkB=0)
        ax.annotate("", xy=(807.42, 113.4), xytext=(808.06, 203.4),
                    arrowprops=arrow, annotation_clip=False)
        ax.annotate("", xy=(805.34, 56.7), xytext=(804.66, 215.0),
                    arrowprops=arrow, annotation_clip=False)
        px_text(146, 97, "1shh-1", fontsize=FS, ha="center", va="center")
        px_text(261, 97, "1shh-2", fontsize=FS, ha="center", va="center")
        px_text(447, 47, "1shh0", fontsize=FS, ha="center", va="center")

fig.savefig("out.png", dpi=100, facecolor="white")
